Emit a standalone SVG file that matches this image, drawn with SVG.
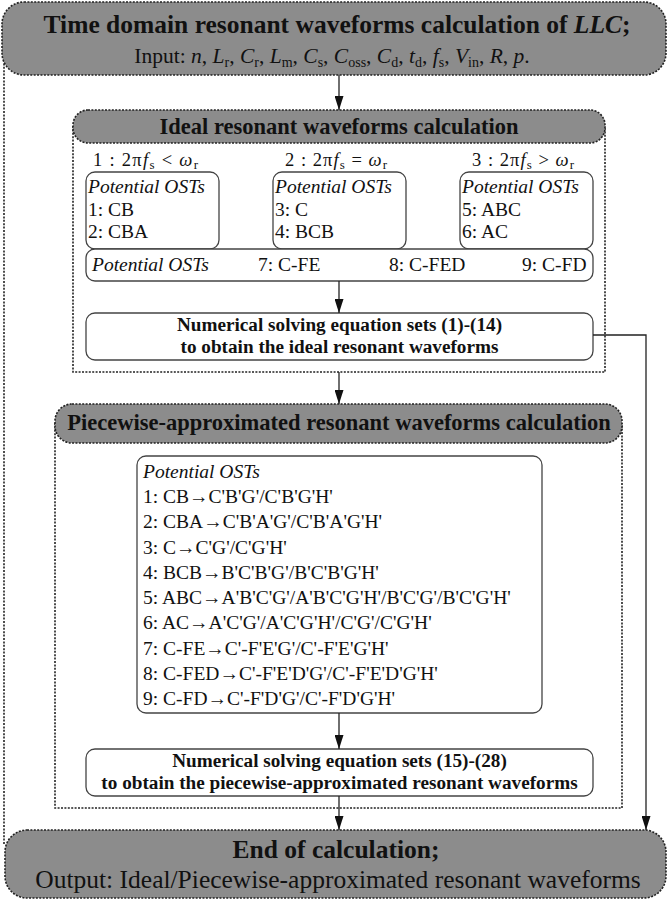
<svg xmlns="http://www.w3.org/2000/svg" width="668" height="903" viewBox="0 0 668 903">
<style>
.t{font-family:"Liberation Serif","Times New Roman",serif;fill:#111}
.b{font-weight:bold}
.i{font-style:italic}
.gray{fill:#8c8c8c;stroke:#222;stroke-width:1.6;stroke-dasharray:2 1.4}
.dot{fill:none;stroke:#222;stroke-width:1.6;stroke-dasharray:2 1.4}
.box{fill:#fff;stroke:#444;stroke-width:1.3}
.ln{fill:none;stroke:#222;stroke-width:1.3}
</style>
<defs>
<marker id="ah" viewBox="0 0 14 9" markerWidth="14" markerHeight="9" markerUnits="userSpaceOnUse" refX="14" refY="4.5" orient="auto">
<path d="M0,0 L14,4.5 L0,9 z" fill="#111"/>
</marker>
</defs>
<rect width="668" height="903" fill="#fff"/>
<line x1="4" y1="60" x2="4" y2="845" class="dot"/>
<g id="start">
<rect x="2" y="2" width="664" height="73" rx="22" class="gray"/>
<text class="t b" x="337" y="33" font-size="25.5" text-anchor="middle">Time domain resonant waveforms calculation of <tspan class="i">LLC</tspan>;</text>
<text class="t" x="332" y="63" font-size="21.5" text-anchor="middle">Input: <tspan class="i">n</tspan>, <tspan class="i">L</tspan><tspan font-size="14" dy="4">r</tspan><tspan dy="-4">, </tspan><tspan class="i">C</tspan><tspan font-size="14" dy="4">r</tspan><tspan dy="-4">, </tspan><tspan class="i">L</tspan><tspan font-size="14" dy="4">m</tspan><tspan dy="-4">, </tspan><tspan class="i">C</tspan><tspan font-size="14" dy="4">s</tspan><tspan dy="-4">, </tspan><tspan class="i">C</tspan><tspan font-size="14" dy="4">oss</tspan><tspan dy="-4">, </tspan><tspan class="i">C</tspan><tspan font-size="14" dy="4">d</tspan><tspan dy="-4">, </tspan><tspan class="i">t</tspan><tspan font-size="14" dy="4">d</tspan><tspan dy="-4">, </tspan><tspan class="i">f</tspan><tspan font-size="14" dy="4">s</tspan><tspan dy="-4">, </tspan><tspan class="i">V</tspan><tspan font-size="14" dy="4">in</tspan><tspan dy="-4">, </tspan><tspan class="i">R</tspan>, <tspan class="i">p</tspan>.</text>
</g>
<g id="ideal">
<path d="M73,126 V372 H605 V126" class="dot"/>
<rect x="73" y="110" width="532" height="33" rx="15" class="gray"/>
<text class="t b" x="339" y="134" font-size="22.5" text-anchor="middle">Ideal resonant waveforms calculation</text>
<text class="t" x="93" y="166" font-size="18.5" textLength="105" lengthAdjust="spacing">1 : 2π<tspan class="i">f</tspan><tspan font-size="13" dy="3">s</tspan><tspan dy="-3"> &lt; </tspan><tspan class="i">ω</tspan><tspan font-size="13" dy="3">r</tspan></text>
<text class="t" x="285" y="166" font-size="18.5" textLength="102" lengthAdjust="spacing">2 : 2π<tspan class="i">f</tspan><tspan font-size="13" dy="3">s</tspan><tspan dy="-3"> = </tspan><tspan class="i">ω</tspan><tspan font-size="13" dy="3">r</tspan></text>
<text class="t" x="472" y="166" font-size="18.5" textLength="102" lengthAdjust="spacing">3 : 2π<tspan class="i">f</tspan><tspan font-size="13" dy="3">s</tspan><tspan dy="-3"> &gt; </tspan><tspan class="i">ω</tspan><tspan font-size="13" dy="3">r</tspan></text>
</g>
<g id="case1">
<rect x="86" y="172" width="133" height="77" rx="9" class="box"/>
<text class="t" font-size="19.5" x="88" y="193"><tspan class="i">Potential OSTs</tspan><tspan x="88" y="216">1: CB</tspan><tspan x="88" y="238">2: CBA</tspan></text>
</g>
<g id="case2">
<rect x="273" y="172" width="133" height="77" rx="9" class="box"/>
<text class="t" font-size="19.5" x="275" y="193"><tspan class="i">Potential OSTs</tspan><tspan x="275" y="216">3: C</tspan><tspan x="275" y="238">4: BCB</tspan></text>
</g>
<g id="case3">
<rect x="460" y="172" width="133" height="77" rx="9" class="box"/>
<text class="t" font-size="19.5" x="462" y="193"><tspan class="i">Potential OSTs</tspan><tspan x="462" y="216">5: ABC</tspan><tspan x="462" y="238">6: AC</tspan></text>
</g>
<g id="common">
<rect x="86" y="249" width="507" height="32" rx="9" class="box"/>
<text class="t" font-size="19.5" y="271"><tspan class="i" x="92">Potential OSTs</tspan><tspan x="258">7: C-FE</tspan><tspan x="389">8: C-FED</tspan><tspan x="522">9: C-FD</tspan></text>
</g>
<g id="solve1">
<rect x="86" y="313" width="507" height="47" rx="9" class="box"/>
<text class="t b" font-size="19.2" x="339.5" y="331" text-anchor="middle">Numerical solving equation sets (1)-(14)</text>
<text class="t b" font-size="19.2" x="339.5" y="353" text-anchor="middle">to obtain the ideal resonant waveforms</text>
</g>
<g id="piecewise">
<path d="M55,423 V808 H622 V423" class="dot"/>
<rect x="55" y="404" width="567" height="39" rx="17" class="gray"/>
<text class="t b" x="339" y="430" font-size="22.5" text-anchor="middle">Piecewise-approximated resonant waveforms calculation</text>
</g>
<g id="list">
<rect x="137" y="456" width="405" height="257" rx="9" class="box"/>
<text class="t" font-size="19.5" x="143" y="478"><tspan class="i">Potential OSTs</tspan>
<tspan x="143" y="503">1: CB→C'B'G'/C'B'G'H'</tspan>
<tspan x="143" y="528">2: CBA→C'B'A'G'/C'B'A'G'H'</tspan>
<tspan x="143" y="554">3: C→C'G'/C'G'H'</tspan>
<tspan x="143" y="579">4: BCB→B'C'B'G'/B'C'B'G'H'</tspan>
<tspan x="143" y="604">5: ABC→A'B'C'G'/A'B'C'G'H'/B'C'G'/B'C'G'H'</tspan>
<tspan x="143" y="629">6: AC→A'C'G'/A'C'G'H'/C'G'/C'G'H'</tspan>
<tspan x="143" y="655">7: C-FE→C'-F'E'G'/C'-F'E'G'H'</tspan>
<tspan x="143" y="680">8: C-FED→C'-F'E'D'G'/C'-F'E'D'G'H'</tspan>
<tspan x="143" y="705">9: C-FD→C'-F'D'G'/C'-F'D'G'H'</tspan></text>
</g>
<g id="solve2">
<rect x="86" y="749" width="507" height="47" rx="9" class="box"/>
<text class="t b" font-size="19.2" x="339.5" y="767" text-anchor="middle">Numerical solving equation sets (15)-(28)</text>
<text class="t b" font-size="19.2" x="339.5" y="789" text-anchor="middle">to obtain the piecewise-approximated resonant waveforms</text>
</g>
<g id="end">
<rect x="5" y="830" width="661" height="68" rx="22" class="gray"/>
<text class="t b" x="336" y="858" font-size="25.5" text-anchor="middle">End of calculation;</text>
<text class="t" x="338" y="888" font-size="25.5" text-anchor="middle">Output: Ideal/Piecewise-approximated resonant waveforms</text>
</g>
<g id="connectors">
<line x1="339" y1="75" x2="339" y2="110" class="ln" marker-end="url(#ah)"/>
<line x1="339" y1="281" x2="339" y2="313" class="ln" marker-end="url(#ah)"/>
<line x1="339" y1="372" x2="339" y2="404" class="ln" marker-end="url(#ah)"/>
<line x1="339" y1="713" x2="339" y2="749" class="ln" marker-end="url(#ah)"/>
<line x1="339" y1="796" x2="339" y2="830" class="ln" marker-end="url(#ah)"/>
<polyline points="593,335 646,335 646,830" class="ln" marker-end="url(#ah)"/>
</g>
</svg>
